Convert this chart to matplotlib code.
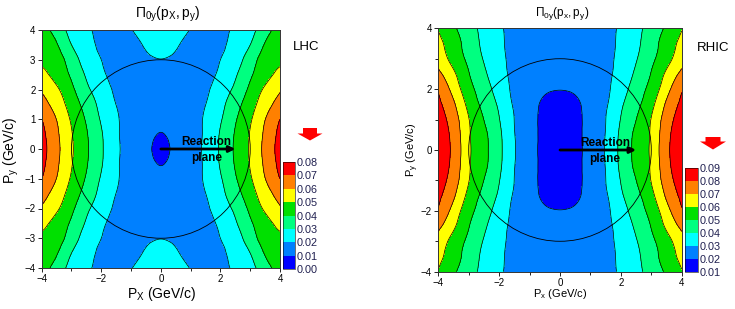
import numpy as np
import matplotlib.pyplot as plt
from matplotlib.patches import Circle, Polygon
from matplotlib.tri import Triangulation, UniformTriRefiner

plt.rcParams['font.family'] = ['Liberation Sans', 'DejaVu Sans']
plt.rcParams['mathtext.fontset'] = 'custom'
plt.rcParams['mathtext.rm'] = 'Liberation Sans'
plt.rcParams['mathtext.it'] = 'Liberation Sans:italic'

# one quadrant (px >= 0, py >= 0), rows = py, cols = px
quad_coords = [0.0, 0.5, 1.0, 1.5, 2.0, 2.5, 3.0, 3.5, 4.0]

lhc_quad = [
    [0.0088, 0.0118, 0.0165, 0.0218, 0.0314, 0.0414, 0.0513, 0.0627, 0.0738],
    [0.0098, 0.0125, 0.0163, 0.0215, 0.0309, 0.0408, 0.0506, 0.0618, 0.0727],
    [0.0113, 0.0135, 0.0164, 0.0212, 0.0290, 0.0390, 0.0488, 0.0598, 0.0700],
    [0.0132, 0.0148, 0.0168, 0.0199, 0.0271, 0.0360, 0.0458, 0.0556, 0.0644],
    [0.0155, 0.0162, 0.0172, 0.0186, 0.0247, 0.0321, 0.0422, 0.0515, 0.0589],
    [0.0178, 0.0177, 0.0178, 0.0182, 0.0215, 0.0288, 0.0385, 0.0464, 0.0533],
    [0.0199, 0.0192, 0.0185, 0.0186, 0.0200, 0.0255, 0.0352, 0.0440, 0.0478],
    [0.0218, 0.0205, 0.0188, 0.0180, 0.0185, 0.0232, 0.0300, 0.0408, 0.0460],
    [0.0236, 0.0222, 0.0198, 0.0180, 0.0180, 0.0215, 0.0268, 0.0358, 0.0450],
]

rhic_quad = [
    [0.0150, 0.0170, 0.0238, 0.0307, 0.0426, 0.0521, 0.0620, 0.0775, 0.0850],
    [0.0152, 0.0172, 0.0237, 0.0303, 0.0422, 0.0517, 0.0614, 0.0768, 0.0843],
    [0.0158, 0.0177, 0.0232, 0.0299, 0.0404, 0.0499, 0.0604, 0.0750, 0.0838],
    [0.0170, 0.0186, 0.0230, 0.0289, 0.0382, 0.0475, 0.0571, 0.0716, 0.0818],
    [0.0202, 0.0210, 0.0240, 0.0283, 0.0354, 0.0446, 0.0536, 0.0664, 0.0790],
    [0.0215, 0.0222, 0.0245, 0.0281, 0.0334, 0.0417, 0.0505, 0.0618, 0.0722],
    [0.0228, 0.0233, 0.0250, 0.0280, 0.0322, 0.0393, 0.0478, 0.0563, 0.0665],
    [0.0240, 0.0244, 0.0256, 0.0280, 0.0315, 0.0378, 0.0458, 0.0545, 0.0625],
    [0.0250, 0.0254, 0.0263, 0.0281, 0.0311, 0.0370, 0.0440, 0.0515, 0.0595],
]

lhc_levels = [0.00, 0.01, 0.02, 0.03, 0.04, 0.05, 0.06, 0.07, 0.08]
rhic_levels = [0.01, 0.02, 0.03, 0.04, 0.05, 0.06, 0.07, 0.08, 0.09]
band_colors = ['#0000ff', '#0080ff', '#00ffff', '#00ff80',
               '#00e000', '#ffff00', '#ff8000', '#ff0000']

W, H = 735, 309


def full_field(quad):
    q = np.array(quad)
    z = np.vstack([q[:0:-1], q])
    return np.hstack([z[:, :0:-1], z])


coords = np.concatenate([-np.array(quad_coords)[:0:-1], quad_coords])
X, Y = np.meshgrid(coords, coords)
triang = Triangulation(X.ravel(), Y.ravel())
refiner = UniformTriRefiner(triang)


def fx(px):
    return px / W


def fy(py):
    return 1 - py / H


def box(x0, y0, x1, y1):
    # pixel box (top-left, bottom-right) -> figure fraction rect
    return [fx(x0), fy(y1), fx(x1) - fx(x0), fy(y0) - fy(y1)]


def block_arrow(fig, cx, top, stem_w, stem_h, head_w, head_h):
    pts = [(cx - stem_w / 2, top), (cx + stem_w / 2, top),
           (cx + stem_w / 2, top + stem_h), (cx + head_w / 2, top + stem_h),
           (cx, top + stem_h + head_h), (cx - head_w / 2, top + stem_h),
           (cx - stem_w / 2, top + stem_h)]
    fig.patches.append(Polygon([(fx(a), fy(b)) for a, b in pts], closed=True,
                               facecolor='#ff0000', edgecolor='none',
                               transform=fig.transFigure))


def draw_map(fig, rect, crect, quad, levels, txt_x, tick_step):
    ax = fig.add_axes(rect)
    Z = full_field(quad)
    tri_ref, z_ref = refiner.refine_field(Z.ravel(), subdiv=3)
    cf = ax.tricontourf(tri_ref, z_ref, levels=levels, colors=band_colors)
    ax.tricontour(tri_ref, z_ref, levels=levels[1:-1], colors='k',
                  linewidths=0.5)
    ax.add_patch(Circle((0, 0), 3, fill=False, color='k', lw=0.6))
    ax.annotate('', xy=(2.5, 0), xytext=(0, 0),
                arrowprops=dict(arrowstyle='-|>', color='k', lw=2,
                                mutation_scale=9, shrinkA=0, shrinkB=0))
    ax.text(txt_x, 0.24, 'Reaction', ha='center', va='center',
            fontsize=8.5, fontweight='bold')
    ax.text(txt_x, -0.31, 'plane', ha='center', va='center',
            fontsize=8.5, fontweight='bold')
    ax.set_xlim(-4, 4)
    ax.set_ylim(-4, 4)
    ax.set_xticks([-4, -2, 0, 2, 4])
    ax.set_xticks([-3, -1, 1, 3], minor=True)
    ax.set_yticks(np.arange(-4, 5, tick_step))
    if tick_step == 2:
        ax.set_yticks([-3, -1, 1, 3], minor=True)
    ax.tick_params(direction='out', labelsize=7, length=3, width=0.6, pad=1.5)
    ax.tick_params(which='minor', direction='out', length=2, width=0.6)
    for s in ax.spines.values():
        s.set_linewidth(0.7)
        s.set_color('#333333')

    cax = fig.add_axes(crect)
    cb = fig.colorbar(cf, cax=cax, ticks=levels)
    cb.set_ticklabels(['%.2f' % v for v in levels])
    cb.outline.set_linewidth(0.4)
    cax.tick_params(length=0, labelsize=7.8, pad=1, labelcolor='#202050')
    return ax


fig = plt.figure(figsize=(W / 100, H / 100), dpi=100)

draw_map(fig, box(41.7, 30, 280, 268), box(283, 162, 295, 269),
         lhc_quad, lhc_levels, 1.54, 1)
draw_map(fig, box(438.3, 28.3, 681.7, 271.7), box(685, 168, 698, 272),
         rhic_quad, rhic_levels, 1.48, 2)

fig.text(fx(168), fy(14), r'$\mathregular{\Pi_{0y}(p_X,p_y)}$',
         ha='center', va='center', fontsize=10)
fig.text(fx(562), fy(14), r'$\mathregular{\Pi_{0y}(p_x,p_y)}$',
         ha='center', va='center', fontsize=8.5)
fig.text(fx(162), fy(294), r'$\mathregular{P_X}$ (GeV/c)',
         ha='center', va='center', fontsize=10)
fig.text(fx(11), fy(150), r'$\mathregular{P_y}$ (GeV/c)',
         ha='center', va='center', fontsize=10, rotation=90)
fig.text(fx(560), fy(294), r'$\mathregular{P_x}$ (GeV/c)',
         ha='center', va='center', fontsize=8)
fig.text(fx(413), fy(150), r'$\mathregular{P_y}$ (GeV/c)',
         ha='center', va='center', fontsize=8, rotation=90)

fig.text(fx(293), fy(47), 'LHC', ha='left', va='center', fontsize=9.5)
fig.text(fx(697), fy(48), 'RHIC', ha='left', va='center', fontsize=9.5)

block_arrow(fig, 310, 128, 14, 5.5, 25, 7)
block_arrow(fig, 713, 137, 15, 4.5, 26, 8)

fig.savefig('out.png', dpi=100)
